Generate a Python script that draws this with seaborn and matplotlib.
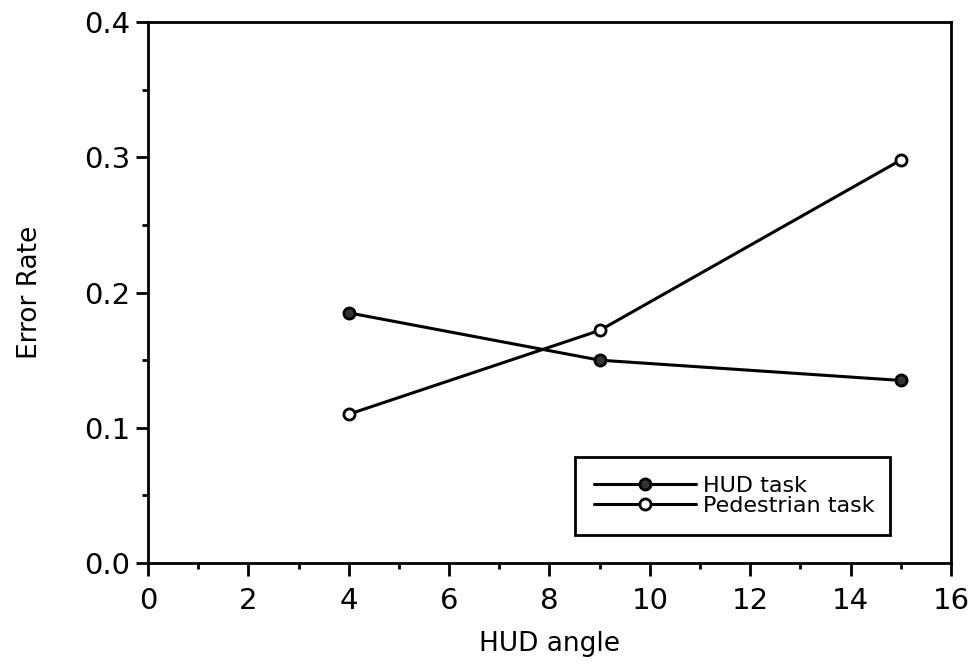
import matplotlib
matplotlib.use("Agg")
import matplotlib.pyplot as plt
import seaborn as sns
import pandas as pd
from matplotlib.ticker import MultipleLocator

hud_angle = [4, 9, 15]
hud_task = [0.185, 0.150, 0.135]
pedestrian_task = [0.110, 0.172, 0.298]
series_names = ["HUD task", "Pedestrian task"]

sns.set_theme(style="ticks")
plt.rcParams['font.family'] = ['DejaVu Sans']

fig = plt.figure(figsize=(9.78, 6.71), dpi=100)
ax = fig.add_axes([0.1513, 0.161, 0.8211, 0.806])

df_hud = pd.DataFrame({"angle": hud_angle, "rate": hud_task})
df_ped = pd.DataFrame({"angle": hud_angle, "rate": pedestrian_task})

sns.lineplot(data=df_hud, x="angle", y="rate", ax=ax, color="black", lw=2.2,
             marker="o", markersize=8, markerfacecolor="#333333", markeredgecolor="black",
             markeredgewidth=2, label=series_names[0])
sns.lineplot(data=df_ped, x="angle", y="rate", ax=ax, color="black", lw=2.2,
             marker="o", markersize=8, markerfacecolor="white", markeredgecolor="black",
             markeredgewidth=2, label=series_names[1])

ax.set_xlim(0, 16)
ax.set_ylim(0, 0.4)
ax.xaxis.set_major_locator(MultipleLocator(2))
ax.xaxis.set_minor_locator(MultipleLocator(1))
ax.yaxis.set_major_locator(MultipleLocator(0.1))
ax.yaxis.set_minor_locator(MultipleLocator(0.05))
ax.set_yticklabels([f"{v:.1f}" for v in ax.get_yticks()])
ax.tick_params(axis="both", which="major", direction="out", length=9, width=2,
               labelsize=21, color="black", labelcolor="black")
ax.tick_params(axis="x", which="major", pad=8)
ax.tick_params(axis="both", which="minor", direction="out", length=4, width=2, color="black")
for s in ax.spines.values():
    s.set_visible(True)
    s.set_color("black")
    s.set_linewidth(2)

ax.set_xlabel("HUD angle", fontsize=19, color="black", labelpad=12)
ax.set_ylabel("Error Rate", fontsize=19, color="black", labelpad=30)

leg = ax.legend(loc="lower left", bbox_to_anchor=(0.532, 0.052, 0.392, 0.148), mode="expand",
                fontsize=16, frameon=True, fancybox=False, edgecolor="black", framealpha=1,
                handlelength=4.6, handletextpad=0.3, borderpad=0.85, labelspacing=0.0,
                borderaxespad=0)
leg.get_frame().set_linewidth(2)
for t in leg.get_texts():
    t.set_color("black")

fig.savefig("out.png", dpi=100, facecolor="white")
